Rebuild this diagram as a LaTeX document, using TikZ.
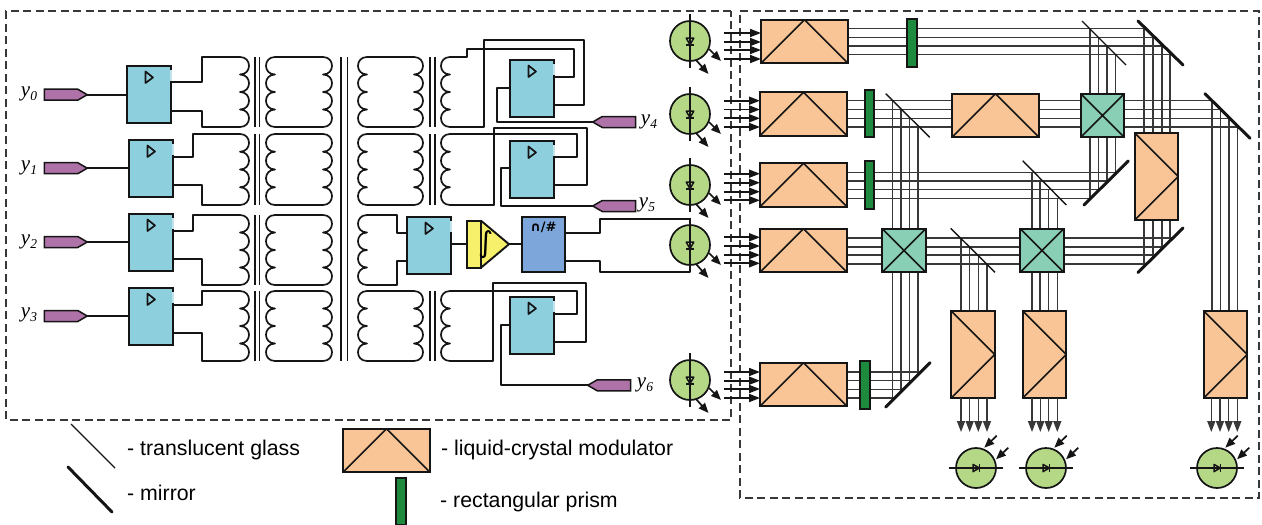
\documentclass[tikz,border=0pt]{standalone}
\usepackage{fontspec}
\setmainfont{Liberation Serif}
\newfontfamily\lgfont{Liberation Sans}
\newfontfamily\djfont{DejaVu Sans}
\usetikzlibrary{arrows.meta,shapes.symbols,calc}
\definecolor{ffblue}{HTML}{8ECFDD}
\definecolor{inpurple}{HTML}{AE72A8}
\definecolor{ampyellow}{HTML}{F7F06A}
\definecolor{gateblue}{HTML}{7DA7DA}
\definecolor{ledgreen}{HTML}{B5D887}
\definecolor{modorange}{HTML}{F9C597}
\definecolor{cubeteal}{HTML}{88CFB5}
\definecolor{prismgreen}{HTML}{1E8A3E}
\definecolor{ink}{HTML}{151515}
\tikzset{
  wire/.style={draw=ink,line width=1.7pt,line join=round},
  beam/.style={draw=ink!85,line width=1.4pt},
  solid box/.style={draw=ink,line width=1.9pt,outer sep=0pt,inner sep=0pt},
  ff/.style={solid box,fill=ffblue,minimum width=44pt,minimum height=57pt},
  gate/.style={solid box,fill=gateblue,minimum width=43pt,minimum height=55pt},
  modh/.style={solid box,fill=modorange,minimum width=87pt,minimum height=43.5pt},
  modv/.style={solid box,fill=modorange,minimum width=43.5pt,minimum height=87pt},
  cube/.style={solid box,fill=cubeteal,minimum width=43.5pt,minimum height=43.5pt},
  prism/.style={solid box,fill=prismgreen,minimum width=9.5pt,minimum height=47.5pt},
  inport/.style={signal,signal from=nowhere,solid box,line width=1.5pt,fill=inpurple,minimum height=11pt,minimum width=43pt,signal pointer angle=60},
  led/.style={circle,draw=ink,line width=1.7pt,fill=ledgreen,minimum size=40pt,inner sep=0pt,outer sep=0pt},
  glass/.style={draw=ink,line width=1.4pt},
  mirror/.style={draw=ink,line width=3pt,line cap=round},
  tipb/.style={-{Triangle[length=11pt,width=8pt]}},
  tips/.style={-{Triangle[length=10pt,width=8pt]}},
  frame/.style={draw=ink!85,line width=1.2pt,dash pattern=on 8pt off 4.5pt},
  ylab/.style={inner sep=0pt},
  legend/.style={inner sep=0pt,anchor=west,font=\lgfont\fontsize{21.3}{24}\selectfont}
}
\newcommand\yname[1]{\fontsize{21}{21}\selectfont\itshape y\raisebox{-3.5pt}{\fontsize{13.5}{13.5}\selectfont #1}}
% name, left, top
\newcommand\ffnode[3]{%
  \node[ff] (#1) at ({#2+22},{#3+28.5}) {};
  \fill[ffblue!55] ({#2+43},{#3+4}) rectangle ({#2+45.2},{#3+15});
  \draw[wire] ({#2+18.5},{#3+5.5}) -- ({#2+26},{#3+11.5}) -- ({#2+18.5},{#3+17}) -- cycle;
}
% x of the notches, direction, top, bottom
\newcommand\coil[4]{%
  \pgfmathsetmacro\chh{(#4-#3)/4}
  \pgfmathsetmacro\cya{#3+\chh}
  \pgfmathsetmacro\cyb{#3+2*\chh}
  \pgfmathsetmacro\cyc{#3+3*\chh}
  \pgfmathsetmacro\cxc{#1+(#2)*12}
  \draw[wire] (#1,#3) .. controls (\cxc,#3) and (\cxc,\cya) .. (#1,\cya)
    .. controls (\cxc,\cya) and (\cxc,\cyb) .. (#1,\cyb)
    .. controls (\cxc,\cyb) and (\cxc,\cyc) .. (#1,\cyc)
    .. controls (\cxc,\cyc) and (\cxc,#4) .. (#1,#4);
}
\newcommand\modhn[3]{%
  \node[modh] (#1) at (#2,#3) {};
  \draw[wire] (#1.south west) -- (#1.north) -- (#1.south east);
}
\newcommand\modvn[3]{%
  \node[modv] (#1) at (#2,#3) {};
  \draw[wire] (#1.north west) -- (#1.east) -- (#1.south west);
}
\newcommand\cuben[3]{%
  \node[cube] (#1) at (#2,#3) {};
  \draw[wire] (#1.north west) -- (#1.south east) (#1.north east) -- (#1.south west);
}
% LED (emitting): name, x, y
\newcommand\lednode[3]{%
  \node[led] (#1) at (#2,#3) {};
  \draw[wire] ({#2},{#3-27}) -- ({#2},{#3+27});
  \draw[wire,line width=1.5pt] ({#2-3.8},{#3-2.8}) -- ({#2+3.8},{#3-2.8}) -- ({#2},{#3+3.6}) -- cycle;
  \draw[wire,line width=1.5pt] ({#2-4},{#3+3.8}) -- ({#2+4},{#3+3.8});
  \draw[wire,tips] ({#2+19},{#3+8}) -- ({#2+31},{#3+20});
  \draw[wire,tips] ({#2+6},{#3+19}) -- ({#2+18.5},{#3+33});
}
% Photodiode (receiving): name, x, y
\newcommand\pdnode[3]{%
  \node[led] (#1) at (#2,#3) {};
  \draw[wire] ({#2-27},{#3}) -- ({#2+27},{#3});
  \draw[wire,line width=1.5pt] ({#2-3},{#3-3.6}) -- ({#2-3},{#3+3.6}) -- ({#2+3.4},{#3}) -- cycle;
  \draw[wire,line width=1.5pt] ({#2+3.6},{#3-4}) -- ({#2+3.6},{#3+4});
  \draw[wire,tips] ({#2+20.7},{#3-32.3}) -- ({#2+8.3},{#3-20.3});
  \draw[wire,tips] ({#2+32.3},{#3-20.3}) -- ({#2+20},{#3-8.7});
}
\begin{document}
\begin{tikzpicture}[x=1pt,y=-1pt]
\useasboundingbox (0,0) rectangle (1262,525);
% frames
\draw[frame] (731,11) -| (6,420) -| cycle;
\draw[frame] (740,11) -| (1259,498) -| cycle;

% ---- optical beams (behind the components)
\foreach \y/\x in {28.7/1146,37.3/1154,46/1163,54.7/1173}
  \draw[beam] (848,\y) -- (\x,\y);
\foreach \x/\ya/\yb in {1144/27/266,1153/36/257,1162/44.5/248.5,1170/52/241}
  \draw[beam] (\x,\ya) -- (\x,\yb);
\foreach \x/\ya/\yb in {1090/29/199.3,1098.5/37.5/190.8,1107/46/182.3,1115.5/54.5/173.8}
  \draw[beam] (\x,\ya) -- (\x,\yb);
\foreach \y/\x in {100.7/1212,109.5/1221,118.3/1230,127/1238.6}
  \draw[beam] (847,\y) -- (\x,\y);
\foreach \x/\y in {1212/100.7,1220.5/109.5,1229/118.3,1237.5/127}
  \draw[beam] (\x,\y) -- (\x,311);
\foreach \x/\ya/\yb in {892.5/100.5/400,901/109/391.7,909.5/118/383,918/126/374.7}
  \draw[beam] (\x,\ya) -- (\x,\yb);
\foreach \y/\x in {172.3/1117,181/1108.3,189.7/1099.6,198.3/1091}
  \draw[beam] (847,\y) -- (\x,\y);
\foreach \x/\y in {1032/172.3,1040/181,1048.7/189.7,1057.3/198.3}
  \draw[beam] (\x,\y) -- (\x,311);
\foreach \y/\x in {238/1173,247/1164,255/1156,264/1147}
  \draw[beam] (847,\y) -- (\x,\y);
\foreach \x/\y in {961/238,969.7/247,978.3/255,987/264}
  \draw[beam] (\x,\y) -- (\x,311);
\foreach \y/\x in {372/920.7,380.7/912,389.3/903.4,398/894.7}
  \draw[beam] (847,\y) -- (\x,\y);

% ---- modulators, cubes, prisms
\modhn{m1}{804.5}{41.5}
\modhn{m2}{803.5}{114}
\modhn{m3}{803.5}{185}
\modhn{m4}{803.5}{250.5}
\modhn{m5}{803.5}{384.5}
\modhn{m6}{995.5}{115.5}
\modvn{v1}{1156.5}{176.5}
\modvn{v2}{973}{354.5}
\modvn{v3}{1044.5}{354.5}
\modvn{v4}{1225.5}{354.5}
\cuben{c1}{1102.5}{115.5}
\cuben{c2}{904}{250.5}
\cuben{c3}{1042}{250.5}
\node[prism] (p1) at (912,43) {};
\node[prism] (p2) at (869.5,113.5) {};
\node[prism] (p3) at (869.5,185) {};
\node[prism] (p5) at (865,385) {};

% ---- glasses and mirrors
\draw[glass] (1082,21) -- (1126,65);
\draw[glass] (885.7,93.7) -- (929.7,137.3);
\draw[glass] (1022.7,160.7) -- (1066.3,205);
\draw[glass] (950.7,228.3) -- (995,272.3);
\draw[mirror] (1138,21) -- (1183,65);
\draw[mirror] (1205,93.7) -- (1250,138.3);
\draw[mirror] (1128.3,161) -- (1084,205);
\draw[mirror] (1183,228) -- (1138,272.5);
\draw[mirror] (930,362.7) -- (885.7,407);

% ---- LEDs and their input arrows
\lednode{l1}{690}{41}
\lednode{l2}{690}{114}
\lednode{l3}{690}{185}
\lednode{l4}{690}{245}
\lednode{l5}{690}{380}
\foreach \y in {33,42,50,59} \draw[wire,tipb] (724,\y) -- (m1.west|-0,\y);
\foreach \y in {100.7,109.5,118.3,127} \draw[wire,tipb] (724,\y) -- (m2.west|-0,\y);
\foreach \y in {173.7,182.7,191.7,200.3} \draw[wire,tipb] (724,\y) -- (m3.west|-0,\y);
\foreach \y in {237.3,246,255,263.3} \draw[wire,tipb] (724,\y) -- (m4.west|-0,\y);
\foreach \y in {372,380.7,389,398} \draw[wire,tipb] (724,\y) -- (m5.west|-0,\y);

% ---- output arrows and photodiodes
\foreach \x in {961,969.7,978.3,987} \draw[beam,tipb] (v2.south-|\x,0) -- (\x,432);
\foreach \x in {1032,1040.3,1048.7,1057.3} \draw[beam,tipb] (v3.south-|\x,0) -- (\x,432);
\foreach \x in {1211.3,1220,1228.7,1237.3} \draw[beam,tipb] (v4.south-|\x,0) -- (\x,432);
\pdnode{d1}{976}{468}
\pdnode{d2}{1046}{468}
\pdnode{d3}{1217}{468}

% ---- flip-flops
\ffnode{b0}{127}{66}
\ffnode{b1}{129}{140}
\ffnode{b2}{129}{214}
\ffnode{b3}{129}{288}
\ffnode{bm}{407}{217}
\ffnode{b4}{510}{60}
\ffnode{b5}{510}{141}
\ffnode{b6}{510}{297}

% ---- inputs
\node[inport] (i0) at (61,94.7) {};
\node[inport] (i1) at (61,168.2) {};
\node[inport] (i2) at (61,242) {};
\node[inport] (i3) at (61,316) {};
\node[inport,signal to=west] (i4) at (619,122) {};
\node[inport,signal to=west] (i5) at (619,206) {};
\node[inport,signal to=west] (i6) at (614,385.3) {};
\draw[wire] (i0.east) -- (b0.west|-i0.east);
\draw[wire] (i1.east) -- (b1.west|-i1.east);
\draw[wire] (i2.east) -- (b2.west|-i2.east);
\draw[wire] (i3.east) -- (b3.west|-i3.east);
\draw[wire] (i4.west) -| (497,88) -- (b4.west|-0,88);
\draw[wire] (i5.west) -| (501,168) -- (b5.west|-0,168);
\draw[wire] (i6.west) -| (501,325) -- (b6.west|-0,325);
\node[ylab] (y0) at (29,94) {\yname{0}};
\node[ylab] (y1) at (29,168) {\yname{1}};
\node[ylab] (y2) at (29,242) {\yname{2}};
\node[ylab] (y3) at (29,315) {\yname{3}};
\node[ylab] (y4) at (649,122) {\yname{4}};
\node[ylab] (y5) at (647,205) {\yname{5}};
\node[ylab] (y6) at (645,385) {\yname{6}};

% ---- transformer, first stage windings
\draw[wire] (b0.east|-0,82) -| (202,57) -- (240,57);
\draw[wire] (b0.east|-0,111) -| (202,127) -- (240,127);
\draw[wire] (b1.east|-0,156.7) -| (193,134) -- (240,134);
\draw[wire] (b1.east|-0,185) -| (202,205) -- (240,205);
\draw[wire] (b2.east|-0,230.7) -| (193,215) -- (240,215);
\draw[wire] (b2.east|-0,259) -| (202,285) -- (240,285);
\draw[wire] (b3.east|-0,304.7) -| (202,291) -- (240,291);
\draw[wire] (b3.east|-0,333) -| (202,361) -- (240,361);
\foreach \ya/\yb in {57/127,134/205,215/285,291/361}{
  \coil{240}{1}{\ya}{\yb}
  \draw[wire] (255,\ya) -- (255,\yb) (259.5,\ya) -- (259.5,\yb);
  \coil{275}{-1}{\ya}{\yb}
  \coil{323}{1}{\ya}{\yb}
  \draw[wire] (275,\ya) -- (323,\ya) (275,\yb) -- (323,\yb);
  \coil{367}{-1}{\ya}{\yb}
}
\draw[wire] (341,57) -- (341,361) (347.5,57) -- (347.5,361);
\foreach \ya/\yb in {57/127,134/205,291/361}{
  \coil{414}{1}{\ya}{\yb}
  \draw[wire] (367,\ya) -- (414,\ya) (367,\yb) -- (414,\yb);
  \draw[wire] (430,\ya) -- (430,\yb) (434.7,\ya) -- (434.7,\yb);
  \coil{450}{-1}{\ya}{\yb}
}
% ---- output windings to flip-flops
\draw[wire] (450,57) -- (467,57) |- (574,49) |- (b4.east|-0,77);
\draw[wire] (450,127) -- (484,127) |- (584,40) |- (b4.east|-0,105);
\draw[wire] (450,134) -- (577,134) |- (b5.east|-0,157);
\draw[wire] (450,205) -- (494,205) |- (587,128) |- (b5.east|-0,185);
\draw[wire] (450,291) -- (577,291) |- (b6.east|-0,314);
\draw[wire] (450,361) -- (493,361) |- (586,283) |- (b6.east|-0,342);
% ---- middle chain
\draw[wire] (367,215) -- (397,215) |- (bm.west|-0,233);
\draw[wire] (367,285) -- (397,285) |- (bm.west|-0,261);
\node[solid box,fill=ampyellow,minimum width=14pt,minimum height=47pt] (a1) at (474,244.2) {};
\draw[solid box,fill=ampyellow,line join=round] (a1.north east) -- (509,244.2) coordinate (a2) -- (a1.south east) -- cycle;
\node[inner sep=0pt,font=\djfont\fontsize{29}{29}\selectfont] (int) at (486,245) {∫};
\node[gate] (g1) at (543.5,244.2) {};
\node[inner sep=0pt,font=\djfont\bfseries\fontsize{13}{13}\selectfont] (gt) at (543.5,227) {∩/\#};
\draw[wire] (bm.east|-a1.west) -- (a1.west);
\draw[wire] (a2) -- (g1.west);
\draw[wire] (g1.east|-0,233) -- (600,233) |- (690,219) -- (l4.north);
\draw[wire] (g1.east|-0,261) -- (600,261) |- (690,272) -- (l4.south);

% ---- legend
\draw[glass] (71,424) -- (115,468);
\draw[mirror] (68,467) -- (112,512);
\modhn{lm}{386.5}{450.5}
\node[prism,minimum width=9.5pt,minimum height=47pt] (lp) at (401,501.5) {};
\node[legend] (t1) at (127,450) {- translucent glass};
\node[legend] (t2) at (127,493) {- mirror};
\node[legend] (t3) at (441,450) {- liquid-crystal modulator};
\node[legend] (t4) at (440,502) {- rectangular prism};
\end{tikzpicture}
\end{document}
